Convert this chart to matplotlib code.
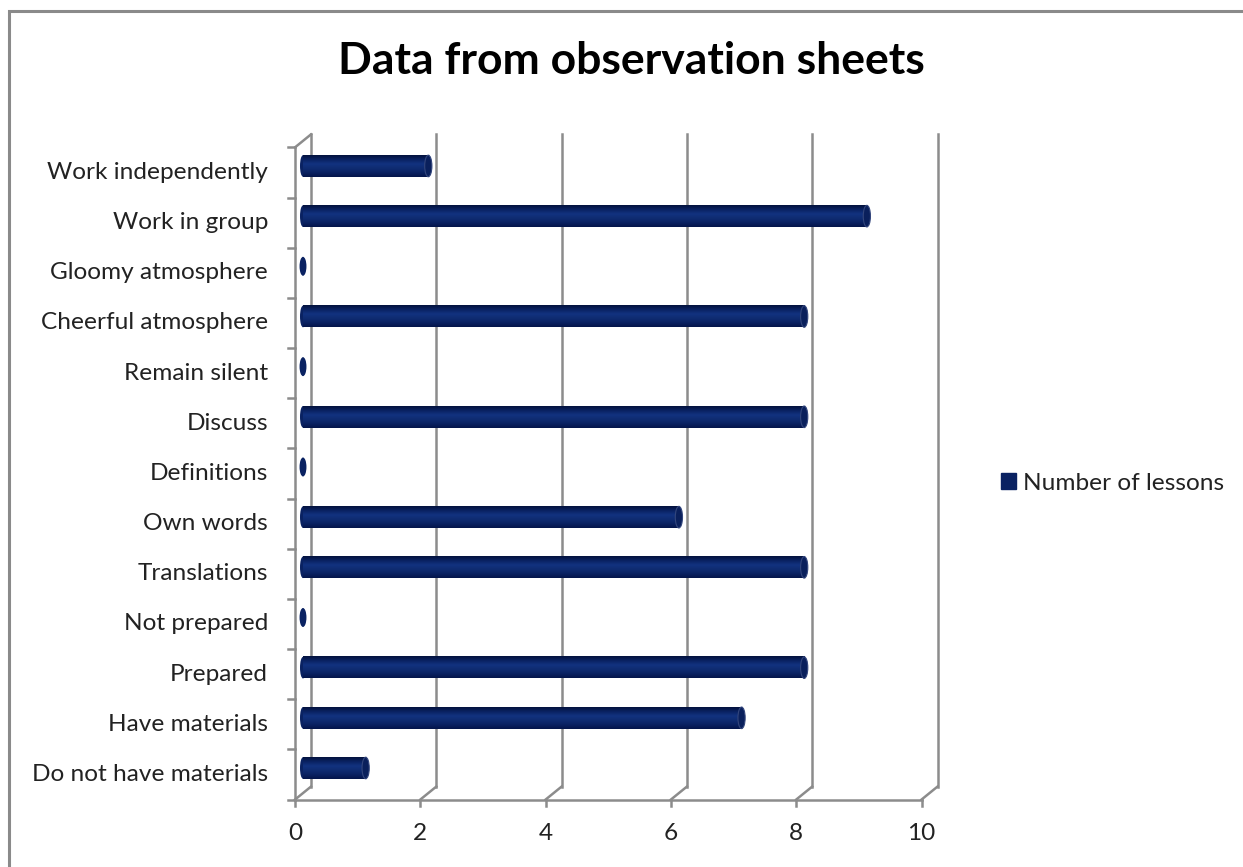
import matplotlib
matplotlib.use("Agg")
import matplotlib.pyplot as plt
import numpy as np
from matplotlib.patches import Ellipse, Rectangle, Patch
from matplotlib.colors import LinearSegmentedColormap

categories = ["Do not have materials", "Have materials", "Prepared", "Not prepared",
              "Translations", "Own words", "Definitions", "Discuss", "Remain silent",
              "Cheerful atmosphere", "Gloomy atmosphere", "Work in group", "Work independently"]
values = [1, 7, 8, 0, 8, 6, 0, 8, 0, 8, 0, 9, 2]
xticks = [0, 2, 4, 6, 8, 10]
series_name = "Number of lessons"
title = "Data from observation sheets"

FONT = "Lato"
FS = 17.6
W, H = 1243, 867
fig = plt.figure(figsize=(W / 100, H / 100), dpi=100)
ax = fig.add_axes([0, 0, 1, 1])
ax.axis("off")

# pixel scale of the chart (mid-depth plane)
px_x = 62.65   # px per value unit
px_y = 50.17   # px per category
x0_px, y0_px = 303, 768
ax.set_xlim(-x0_px / px_x, (W - x0_px) / px_x)
ax.set_ylim(-(H - y0_px) / px_y, y0_px / px_y)

dxh = 8 / px_x     # half depth offset in x
dyh = 6.5 / px_y   # half depth offset in y
n = len(categories)
xmax = xticks[-1]
floor_f = -0.5 - dyh
floor_b = -0.5 + dyh
top_f = n - 0.5 - dyh
top_b = n - 0.5 + dyh

grid_c = "#8c8c8c"
lw = 1.8
# back wall gridlines
for t in xticks:
    ax.plot([t + dxh, t + dxh], [floor_b, top_b], color=grid_c, lw=lw, zorder=1)
    # floor diagonals
    ax.plot([t - dxh, t + dxh], [floor_f, floor_b], color=grid_c, lw=lw, zorder=1)
    # ticks below front axis
    ax.plot([t - dxh, t - dxh], [floor_f, floor_f - 0.12], color=grid_c, lw=lw, zorder=1)
    ax.text(t - dxh, floor_f - 0.68, str(t), ha="center", va="center",
            fontsize=FS, family=FONT, color="#222222")
# front floor line
ax.plot([-dxh, xmax - dxh], [floor_f, floor_f], color=grid_c, lw=lw, zorder=1)
# left front vertical axis and top diagonal
ax.plot([-dxh, -dxh], [floor_f, top_f], color=grid_c, lw=lw, zorder=1)
ax.plot([-dxh, dxh], [top_f, top_b], color=grid_c, lw=lw, zorder=1)
# left ticks at category boundaries
for k in range(n + 1):
    yb = k - 0.5 - dyh
    ax.plot([-dxh - 0.11, -dxh], [yb, yb], color=grid_c, lw=lw, zorder=1)

# category labels
for i, c in enumerate(categories):
    ax.text(-35 / px_x, i - dyh, c, ha="right", va="center", fontsize=FS,
            family=FONT, color="#222222")

# cylinder bars
cmap = LinearSegmentedColormap.from_list(
    "cyl", ["#03123d", "#0a2262", "#12327f", "#0f2c72", "#0a2262", "#04154a"])
grad = np.linspace(0, 1, 64).reshape(-1, 1)
bh = 0.43
capw = 6 / px_x
for i, v in enumerate(values):
    if v > 0:
        ax.imshow(grad, cmap=cmap, aspect="auto", interpolation="bilinear",
                  extent=[0, v, i - bh / 2, i + bh / 2], origin="upper", zorder=3)
        ax.add_patch(Ellipse((0, i), capw, bh, facecolor="#0a2262", edgecolor="none", zorder=2.9))
        ax.add_patch(Ellipse((v, i), capw * 1.2, bh, facecolor="#0a205c",
                             edgecolor="#33467c", lw=0.8, zorder=4))
    else:
        ax.add_patch(Ellipse((0, i), capw * 1.15, bh * 0.88, facecolor="#0a2262",
                             edgecolor="none", zorder=4))

ax.set_xlim(-x0_px / px_x, (W - x0_px) / px_x)
ax.set_ylim(-(H - y0_px) / px_y, y0_px / px_y)

# title
fig.text(631 / W, 1 - 61 / H, title, ha="center", va="center", fontsize=32,
         fontweight="bold", family=FONT, color="#000000")

# legend
leg = fig.legend(handles=[Patch(facecolor="#0a2262", edgecolor="#0a2262", label=series_name)],
                 loc="center left", bbox_to_anchor=(1001 / W, 1 - 483 / H), frameon=False,
                 prop={"family": FONT, "size": FS}, handlelength=0.6, handleheight=0.6,
                 handletextpad=0.3, borderpad=0, borderaxespad=0)
for t in leg.get_texts():
    t.set_color("#222222")

# chart border
fig.patches.append(Rectangle((9 / W, -0.1), 1.5, 1 - 11 / H + 0.1, transform=fig.transFigure,
                             fill=False, edgecolor="#8a8a8a", lw=2.2))

fig.savefig("out.png", dpi=100)
